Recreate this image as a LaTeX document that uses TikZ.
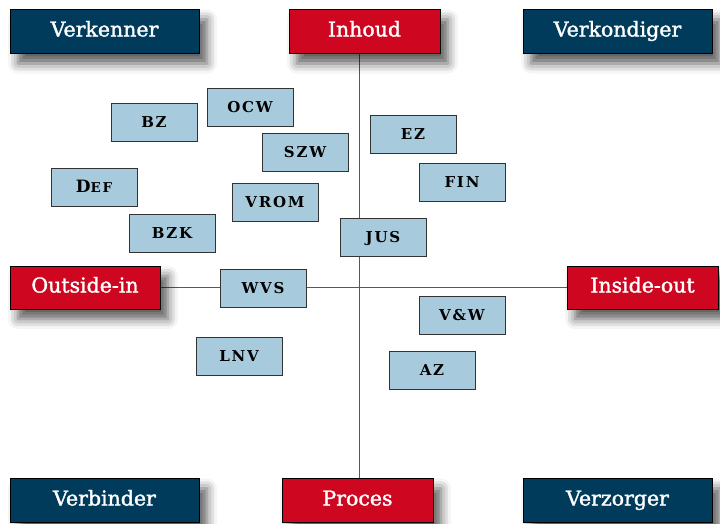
\documentclass[tikz,border=0pt]{standalone}
\usepackage{fontspec}
\setmainfont{DejaVu Serif}
\newfontfamily\lblfont{DejaVu Serif}[BoldFont={DejaVu Serif},BoldFeatures={FakeBold=1.5}]
\newfontfamily\minfont{DejaVu Serif}[LetterSpace=12]
\usetikzlibrary{shadows.blur}
\definecolor{dblue}{RGB}{0,59,92}
\definecolor{dred}{RGB}{206,6,32}
\definecolor{lblue}{RGB}{168,202,221}
\definecolor{lred}{RGB}{218,28,58}
\tikzset{redaxis/.style={fill=lred}}
\tikzset{
  bigbox/.style={draw=black, line width=0.8pt, text=white, minimum height=44pt, inner sep=0pt,
    font=\lblfont\bfseries\fontsize{20.5}{24}\selectfont, text height=14.5pt, text depth=4.5pt,
    blur shadow={shadow xshift=8pt, shadow yshift=-10pt, shadow blur radius=10pt, shadow opacity=65}},
  rolebox/.style={bigbox, fill=dblue, minimum width=189pt},
  axisbox/.style={bigbox, fill=dred, minimum width=151pt},
  mbox/.style={draw=black!80, line width=0.7pt, fill=lblue, minimum width=86pt, minimum height=38pt, inner sep=0pt,
    font=\minfont\bfseries\fontsize{15}{17}\selectfont, text height=10.6pt, text depth=0pt}
}
\newcommand{\bigD}[1]{{\fontsize{17}{19}\selectfont #1}}
\newcommand{\smlc}[1]{{\fontsize{13.5}{15}\selectfont #1}}
\begin{document}
\begin{tikzpicture}[x=1pt,y=-1pt]
\useasboundingbox (0,0) rectangle (720,523);
% axis end points (edges of the axis boxes)
\coordinate (vtop) at (359.5,54);
\coordinate (vbot) at (359.5,478);
\coordinate (hleft) at (160,287.5);
\coordinate (hright) at (567,287.5);
\path[redaxis] ([xshift=-0.7pt]vtop) rectangle ([xshift=0.7pt]vbot);
\path[redaxis] ([yshift=-0.7pt]hleft) rectangle ([yshift=0.7pt]hright);
\node[rolebox] (verkenner) at (104.5,31.5) {Verkenner};
\node[axisbox] (inhoud) at (364.5,31.5) {Inhoud};
\node[rolebox] (verkondiger) at (617.5,31.5) {Verkondiger};
\node[axisbox, minimum width=150pt, minimum height=43pt] (outside) at (85,287.5) {Outside-in};
\node[axisbox, minimum height=43pt] (inside) at (642.5,287.5) {Inside-out};
\node[rolebox] (verbinder) at (104.5,500.5) {Verbinder};
\node[axisbox] (proces) at (357.5,500.5) {Proces};
\node[rolebox] (verzorger) at (617.5,500.5) {Verzorger};
\node[mbox] (bz) at (154,122) {BZ};
\node[mbox] (ocw) at (250,107) {OCW};
\node[mbox] (szw) at (305,152) {SZW};
\node[mbox] (def) at (94,187) {\bigD{D}\smlc{EF}};
\node[mbox] (vrom) at (275,202) {VROM};
\node[mbox] (bzk) at (172,233) {BZK};
\node[mbox] (jus) at (383,237) {JUS};
\node[mbox] (ez) at (413,134) {EZ};
\node[mbox] (fin) at (462,182.5) {FIN};
\node[mbox] (wvs) at (263,288) {WVS};
\node[mbox] (lnv) at (239,356.5) {LNV};
\node[mbox] (vw) at (462,315.5) {V\&W};
\node[mbox] (az) at (432,370.5) {AZ};
\end{tikzpicture}
\end{document}
